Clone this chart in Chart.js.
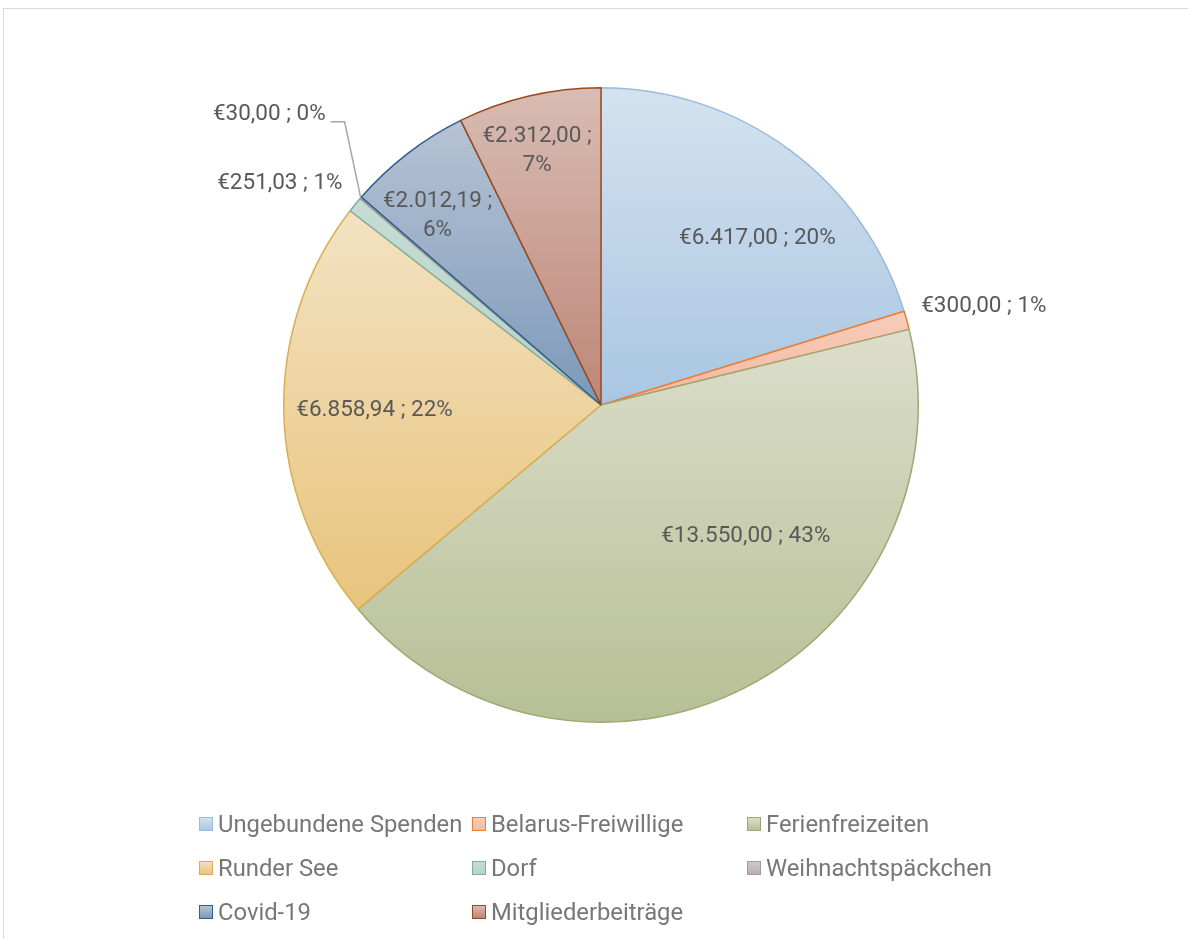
<!DOCTYPE html>
<html>
<head>
<meta charset="utf-8">
<script src="https://cdn.jsdelivr.net/npm/chart.js@4.4.1/dist/chart.umd.min.js"></script>
<style>
  html, body { margin: 0; padding: 0; background: #fff; }
  #wrap { position: relative; width: 1188px; height: 939px; overflow: hidden; font-family: Roboto, "Noto Sans", sans-serif; }
  #frame { position: absolute; left: 3px; top: 8px; width: 1200px; height: 960px; border: 1px solid #d9d9d9; box-sizing: border-box; }
  #pie { position: absolute; left: 0; top: 0; }
  #legend { position: absolute; left: 199px; top: 810px; display: grid; grid-template-columns: 273px 275px 260px; row-gap: 16px; }
  .item { display: flex; align-items: center; height: 28px; font-size: 23.8px; color: #777777; white-space: nowrap; }
  .box { width: 12px; height: 12px; margin-right: 5px; border: 1.5px solid; }
</style>
</head>
<body>
<div id="wrap">
  <div id="frame"></div>
  <canvas id="pie" width="1188" height="939"></canvas>
  <div id="legend"></div>
</div>
<script>
// categories and amounts (EUR)
var categories = ["Ungebundene Spenden", "Belarus-Freiwillige", "Ferienfreizeiten", "Runder See",
                  "Dorf", "Weihnachtspäckchen", "Covid-19", "Mitgliederbeiträge"];
var amounts = [6417.00, 300.00, 13550.00, 6858.94, 251.03, 30.00, 2012.19, 2312.00];

// colours
var borderColors = ["#9bbbdb", "#ed7d31", "#9ca872", "#d8ae52", "#80ad9e", "#a39b9b", "#2f5f8e", "#9c4a1c"];
var fillTop = ["#d4e2ef", "#f6cdbb", "#dcdecb", "#f3e2c2", "#c6dcd5", "#cfc8c8", "#b6c3d4", "#d8bcb3"];
var fillBottom = ["#a9c6e2", "#f2b9a1", "#b7bf95", "#e8c47c", "#b7d2c9", "#b9afaf", "#7c99ba", "#bd8676"];

var total = amounts.reduce(function (a, b) { return a + b; }, 0);

function fmtEuro(v) {
    var parts = v.toFixed(2).split(".");
    var intPart = parts[0].replace(/\B(?=(\d{3})+(?!\d))/g, ".");
    return "€" + intPart + "," + parts[1];
}

// label placement: angle (deg, clockwise from top), distance in radii, alignment, wrap
var labelPlacement = [
    { a: 43.2,  d: 0.72,  align: "center" },
    { a: 72.9,  d: 1.056, align: "left" },
    { a: 132.3, d: 0.617, align: "center" },
    { a: 268.7, d: 0.714, align: "center" },
    { a: 310.6, d: 1.073, align: "right" },
    { a: 316.5, d: 1.261, align: "right", leader: true },
    { a: 319.1, d: 0.787, align: "center", wrap: true },
    { a: 345.9, d: 0.827, align: "center", wrap: true }
];

function sliceGradient(ctx) {
    var chart = ctx.chart;
    var area = chart.chartArea;
    var i = ctx.dataIndex;
    if (!area) return fillBottom[i];
    var cx = (area.left + area.right) / 2;
    var cy = (area.top + area.bottom) / 2;
    var r = Math.min(area.right - area.left, area.bottom - area.top) / 2;
    var before = 0;
    for (var k = 0; k < i; k++) before += amounts[k];
    var a0 = -Math.PI / 2 + before / total * 2 * Math.PI;
    var a1 = a0 + amounts[i] / total * 2 * Math.PI;
    var ys = [cy, cy + r * Math.sin(a0), cy + r * Math.sin(a1)];
    // check top / bottom extremes
    [-Math.PI / 2, Math.PI / 2, 3 * Math.PI / 2].forEach(function (t) {
        if (t >= a0 && t <= a1) ys.push(cy + r * Math.sin(t));
    });
    var minY = Math.min.apply(null, ys), maxY = Math.max.apply(null, ys);
    if (maxY - minY < 1) maxY = minY + 1;
    var g = chart.ctx.createLinearGradient(0, minY, 0, maxY);
    g.addColorStop(0, fillTop[i]);
    g.addColorStop(1, fillBottom[i]);
    return g;
}

var labelPlugin = {
    id: "sliceLabels",
    afterDatasetsDraw: function (chart) {
        var ctx = chart.ctx;
        var meta = chart.getDatasetMeta(0);
        ctx.save();
        ctx.font = "22.5px Roboto, 'Noto Sans', sans-serif";
        ctx.fillStyle = "#595959";
        ctx.textBaseline = "middle";
        meta.data.forEach(function (arc, i) {
            var p = labelPlacement[i];
            var r = arc.outerRadius;
            var ang = p.a * Math.PI / 180;
            var x = arc.x + Math.sin(ang) * r * p.d;
            var y = arc.y - Math.cos(ang) * r * p.d;
            var pct = Math.round(amounts[i] / total * 100) + "%";
            var lines = p.wrap ? [fmtEuro(amounts[i]) + " ;", pct] : [fmtEuro(amounts[i]) + " ; " + pct];
            ctx.textAlign = p.align;
            var lh = 29;
            lines.forEach(function (t, j) {
                ctx.fillText(t, x, y + (j - (lines.length - 1) / 2) * lh);
            });
            if (p.leader) {
                var mid = (arc.startAngle + arc.endAngle) / 2;
                var ex = arc.x + Math.cos(mid) * r;
                var ey = arc.y + Math.sin(mid) * r;
                ctx.strokeStyle = "#a6a6a6";
                ctx.lineWidth = 1.5;
                ctx.beginPath();
                ctx.moveTo(x + 5, y + 7);
                ctx.lineTo(x + 19, y + 7);
                ctx.lineTo(ex, ey);
                ctx.stroke();
            }
        });
        ctx.restore();
    }
};

var pieCtx = document.getElementById("pie").getContext("2d");

new Chart(pieCtx, {
    type: "pie",
    data: {
        labels: categories,
        datasets: [{
            label: "Spenden",
            data: amounts,
            backgroundColor: sliceGradient,
            borderColor: borderColors,
            borderWidth: 1.5
        }]
    },
    options: {
        responsive: false,
        animation: false,
        events: [],
        layout: { padding: { left: 283, right: 269, top: 87, bottom: 216 } },
        plugins: {
            legend: { display: false },
            tooltip: { enabled: false }
        }
    },
    plugins: [labelPlugin]
});

// legend
var legend = document.getElementById("legend");
categories.forEach(function (name, i) {
    var item = document.createElement("div");
    item.className = "item";
    var box = document.createElement("span");
    box.className = "box";
    box.style.borderColor = borderColors[i];
    box.style.background = "linear-gradient(" + fillTop[i] + ", " + fillBottom[i] + ")";
    item.appendChild(box);
    item.appendChild(document.createTextNode(name));
    legend.appendChild(item);
});
</script>
</body>
</html>
